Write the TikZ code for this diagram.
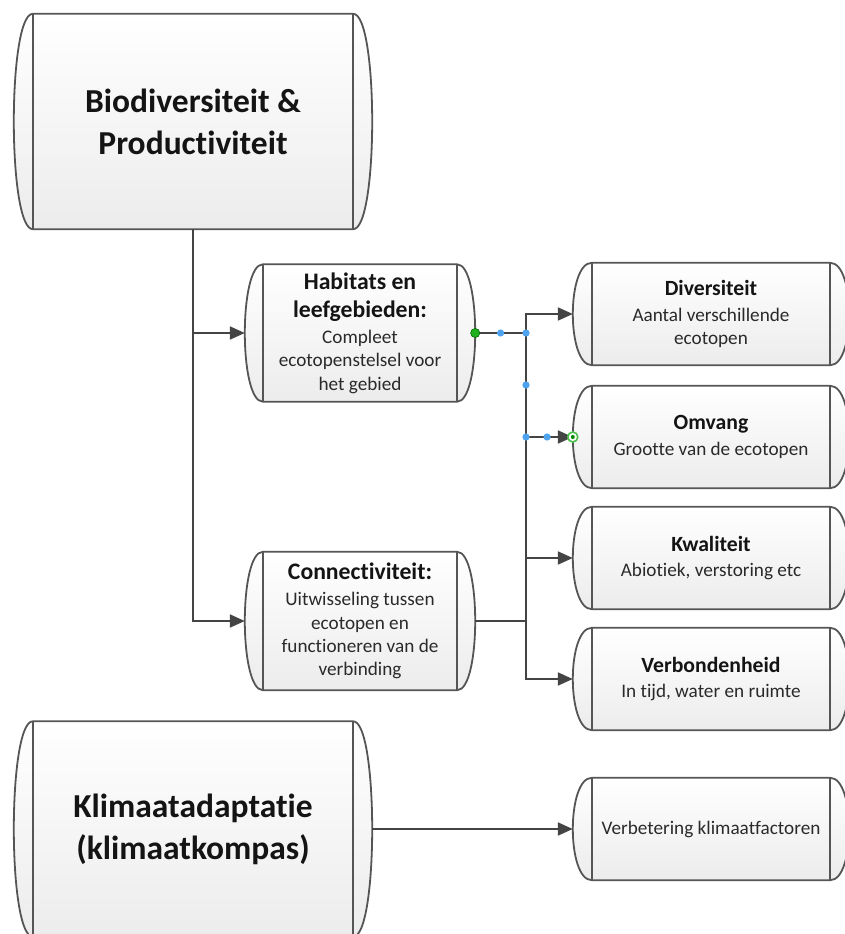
\documentclass[tikz,border=0pt]{standalone}
\usepackage{fontspec}
\setmainfont{Carlito}[Ligatures={NoCommon}]
\usetikzlibrary{arrows.meta,calc,backgrounds}

\definecolor{lineclr}{HTML}{444444}
\definecolor{edgeclr}{HTML}{555555}
\definecolor{txtbold}{HTML}{141414}
\definecolor{txtreg}{HTML}{2A2A2A}
\definecolor{fillbot}{HTML}{ECECEC}
\definecolor{handleblue}{HTML}{4DA3F0}
\definecolor{handlegreen}{HTML}{1FB01F}

% heading fonts used inside the boxes
\newcommand\bighead{\fontsize{33.5}{42}\selectfont\bfseries}
\newcommand\midhead{\fontsize{23.7}{28}\selectfont\bfseries\color{txtbold}}
\newcommand\sidehead{\fontsize{21.7}{26}\selectfont\bfseries\color{txtbold}}

% barrel-shaped process box: straight top/bottom, inner vertical rules, bulging ends
\newcommand\barrel[2]{%
  \path[boxfill]
    (#1.north west) -- (#1.north east)
    .. controls ($(#1.north east)+(4/3*#2,0)$) and ($(#1.south east)+(4/3*#2,0)$) .. (#1.south east)
    -- (#1.south west)
    .. controls ($(#1.south west)+(-4/3*#2,0)$) and ($(#1.north west)+(-4/3*#2,0)$) .. (#1.north west)
    -- cycle;
  \draw[boxedge] (#1.north west) -- (#1.south west) (#1.north east) -- (#1.south east);
  \coordinate (#1-l) at ($(#1.west)+(-#2,0)$);
  \coordinate (#1-r) at ($(#1.east)+(#2,0)$);
}

\tikzset{
  box/.style={rectangle, inner sep=0pt, align=center, text=txtreg},
  bigbox/.style={box, font=\bighead, text=txtbold, minimum width=320pt, minimum height=215pt},
  midbox/.style={box, font=\fontsize{19.2}{23.4}\selectfont, minimum width=194pt, minimum height=137pt},
  sidebox/.style={box, font=\fontsize{19.2}{23.4}\selectfont, minimum width=238pt, minimum height=102pt},
  boxfill/.style={top color=white, bottom color=fillbot, draw=edgeclr, line width=1.8pt},
  boxedge/.style={draw=edgeclr, line width=1.8pt},
  conn/.style={draw=lineclr, line width=2pt, -{Triangle[length=15pt, width=13pt]}},
  bus/.style={draw=lineclr, line width=2pt},
  handle/.style={fill=handleblue},
}

\begin{document}
\begin{tikzpicture}[x=1pt, y=-1pt]
\useasboundingbox (0,0) rectangle (845,934);

% main themes
\node[bigbox] (A) at (193,121.5) {Biodiversiteit \&\\Productiviteit};
\node[bigbox] (K) at (193,829) {Klimaatadaptatie\\(klimaatkompas)};

% sub themes
\node[midbox] (H) at (360,333)
  {\midhead Habitats en\\[4.5pt]\midhead leefgebieden:\\[3pt]Compleet\\ecotopenstelsel voor\\het gebied};
\node[midbox, minimum height=138pt] (C) at (360,621)
  {\midhead Connectiviteit:\\[3pt]Uitwisseling tussen\\ecotopen en\\functioneren van de\\verbinding};

% indicators
\node[sidebox] (D) at (711,314) {\sidehead Diversiteit\\[2.5pt]Aantal verschillende\\ecotopen};
\node[sidebox] (O) at (711,437) {\sidehead Omvang\\[2.5pt]Grootte van de ecotopen};
\node[sidebox] (Q) at (711,558) {\sidehead Kwaliteit\\[2.5pt]Abiotiek, verstoring etc};
\node[sidebox] (V) at (711,679) {\sidehead Verbondenheid\\[2.5pt]In tijd, water en ruimte};
\node[sidebox] (F) at (711,829) {Verbetering klimaatfactoren};

\begin{scope}[on background layer]
  \clip (0,0) rectangle (845,934);
  \barrel{A}{19}
  \barrel{K}{19}
  \barrel{H}{18}
  \barrel{C}{18}
  \barrel{D}{19}
  \barrel{O}{19}
  \barrel{Q}{19}
  \barrel{V}{19}
  \barrel{F}{19}
\end{scope}

% connectors
\coordinate (spine) at (526,0);
\draw[conn] (A.south) |- (H-l);
\draw[conn] (A.south) |- (C-l);
\draw[conn] (H-r) -- (H-r -| spine) |- (D-l);
\draw[conn] (H-r) -- (H-r -| spine) |- (O-l);
\draw[conn] (C-r) -- (C-r -| spine) |- (Q-l);
\draw[conn] (C-r) -- (C-r -| spine) |- (V-l);
\draw[bus] (O-l -| spine) -- (Q-l -| spine);
\draw[conn] (K-r) -- (F-l);

% handles of the selected connector
\coordinate (hb2) at (H-r -| spine);
\coordinate (hb4) at (O-l -| spine);
\coordinate (hb1) at ($(H-r)!0.5!(hb2)$);
\coordinate (hb3) at ($(hb2)!0.5!(hb4)$);
\coordinate (hb5) at ($(hb4)!0.45!(O-l)$);
\foreach \p in {hb1,hb2,hb3,hb4,hb5}
  \fill[handle] (\p) circle[radius=3.6pt];
\fill[handlegreen, draw=green!40!black, line width=0.6pt] (H-r) circle[radius=4.6pt];
\draw[green!65!black!70, fill=white, line width=1.6pt] (O-l) circle[radius=5pt];
\fill[green!55!black] (O-l) circle[radius=2pt];
\end{tikzpicture}
\end{document}
